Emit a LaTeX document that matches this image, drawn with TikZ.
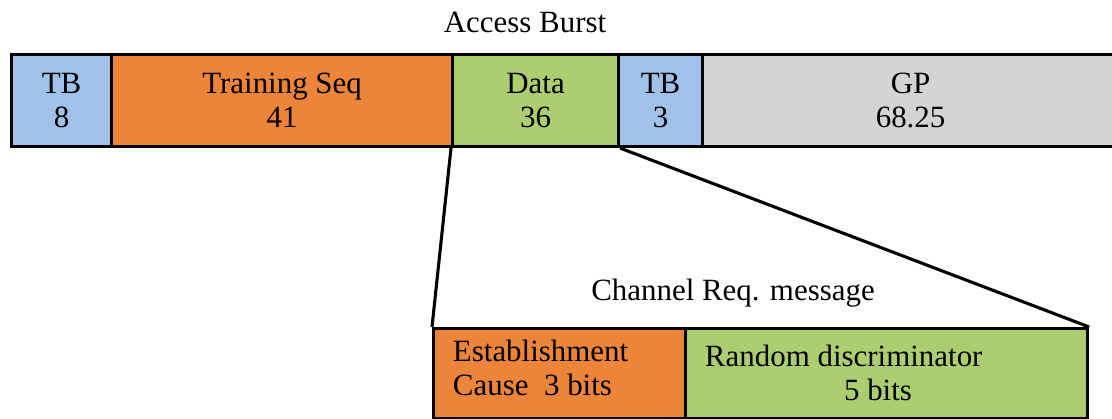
\documentclass[tikz,border=0pt]{standalone}
\usepackage{fontspec}
\setmainfont{Liberation Serif}
\usepackage{tikz}
\usetikzlibrary{calc}
\definecolor{tbblue}{RGB}{160,194,232}
\definecolor{seqorange}{RGB}{236,132,58}
\definecolor{datagreen}{RGB}{172,206,112}
\definecolor{gpgray}{RGB}{212,212,212}
\tikzset{
	field/.style={draw=black, line width=2.2pt, inner sep=0pt, anchor=north west, align=center,
		font=\fontsize{22}{24}\selectfont},
	caption/.style={font=\fontsize{22}{24}\selectfont}
}

\begin{document}
\begin{tikzpicture}[x=0.025cm, y=-0.025cm]
			%%%%% START %%%%%
			
			\useasboundingbox (0, 0) rectangle (1112, 419);
			
			\node[caption] (burst) at (525, 22) {Access Burst};
			
			\node[field, fill=tbblue, minimum width=2.5cm, minimum height=2.3cm] (tba) at (10, 53) {TB\\8};
			\node[field, fill=seqorange, minimum width=8.525cm, minimum height=2.3cm] (seq) at (110, 53) {Training Seq\\41};
			\node[field, fill=datagreen, minimum width=4.15cm, minimum height=2.3cm] (data) at (451, 53) {Data\\36};
			\node[field, fill=tbblue, minimum width=2.1cm, minimum height=2.3cm] (tbb) at (617, 53) {TB\\3};
			\node[field, fill=gpgray, minimum width=10.4cm, minimum height=2.3cm] (gp) at (701, 53) {GP\\68.25};
			
			\node[caption] (chreq) at (733, 293) {Channel Req. message};
			
			\node[field, fill=seqorange, minimum width=6.3cm, minimum height=2.25cm, align=left] (cause) at (432, 327) {};
			\node[field, fill=datagreen, minimum width=10.05cm, minimum height=2.25cm] (rand) at (684, 327) {};
			\node[caption, anchor=west] (causetxt) at (448, 372) {\begin{tabular}{@{}l@{}}Establishment\\Cause\ \ 3 bits\end{tabular}};
			\node[caption, anchor=west] (randtxt) at (700, 356) {Random discriminator};
			\node[caption] (bitstxt) at (878, 390) {5 bits};
			
			\draw[line width=2.2pt] (data.south west) -- (cause.north west);
			\draw[line width=2.2pt] (data.south east) -- (rand.north east);
			
			%%%%% END %%%%%
\end{tikzpicture}
\end{document}
